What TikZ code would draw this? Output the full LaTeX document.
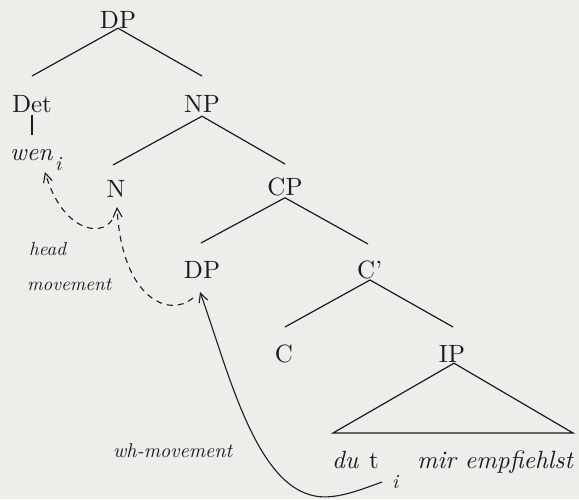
\documentclass[tikz,border=0pt]{standalone}
\usepackage{fontspec}
\setmainfont{lmroman10-regular.otf}[ItalicFont=lmroman10-italic.otf]
\usetikzlibrary{arrows.meta}
\definecolor{bg}{RGB}{237,237,234}
\definecolor{ink}{RGB}{28,28,28}
\begin{document}
\begin{tikzpicture}[x=1pt,y=-1pt,
  lab/.style={inner sep=0pt, anchor=base, text=ink, font=\fontsize{25}{30}\selectfont},
  labw/.style={lab, anchor=base west},
  ital/.style={labw, font=\fontsize{25}{30}\selectfont\itshape},
  sub/.style={labw, font=\fontsize{20}{24}\selectfont\itshape},
  note/.style={labw, font=\fontsize{19}{23}\selectfont\itshape},
  branch/.style={draw=ink, line width=1.2pt},
  move/.style={draw=ink, line width=1.1pt, -{Straight Barb[length=9pt,width=9pt]}},
  headmove/.style={move, dash pattern=on 6pt off 5pt}
]
\fill[bg] (0,0) rectangle (579,499);
\useasboundingbox (0,0) rectangle (579,499);

% labels
\node[lab] (DPtop) at (118,28) {DP};
\node[lab] (Det) at (32,112) {Det};
\node[ital] (wen) at (10,160) {wen};
\node[sub] (wi) at (55,170) {i};
\node[lab] (NP) at (202,112) {NP};
\node[lab] (N) at (116,197) {N};
\node[lab] (CP) at (285,195) {CP};
\node[lab] (DPlow) at (202,278) {DP};
\node[labw] (Cbar) at (357,278) {C'};
\node[lab] (C) at (284,362) {C};
\node[lab] (IP) at (452,362) {IP};
\node[ital] (du) at (332,468) {du};
\node[lab] (t) at (374,468) {t};
\node[sub] (ti) at (392,488) {i};
\node[ital] (rest) at (417,468) {mir empfiehlst};
\node[note] (head) at (29,255) {head};
\node[note] (mov) at (27,290) {movement};
\node[note, font=\fontsize{20}{24}\selectfont\itshape] (whmov) at (113,457) {wh-movement};

% branch ends
\coordinate (eDet) at (32,76);
\coordinate (eNP) at (202,76);
\coordinate (eWen) at (32,135);
\coordinate (eN) at (113,165);
\coordinate (eCP) at (285,164);
\coordinate (eDPlow) at (201,243);
\coordinate (eCbar) at (368,244);
\coordinate (eC) at (285,327);
\coordinate (eIP) at (453,327);
\coordinate (baseL) at (333,433);
\coordinate (baseR) at (573,433);
\coordinate (CbarTop) at (370,280);

% tree
\draw[branch] (DPtop.south) -- (eDet);
\draw[branch] (DPtop.south) -- (eNP);
\draw[branch] ([yshift=-3pt]Det.south) -- (eWen);
\draw[branch] ([yshift=-4pt]NP.south) -- (eN);
\draw[branch] ([yshift=-4pt]NP.south) -- (eCP);
\draw[branch] ([yshift=-2pt]CP.south) -- (eDPlow);
\draw[branch] ([yshift=-2pt]CP.south) -- (eCbar);
\draw[branch] (CbarTop) -- (eC);
\draw[branch] (CbarTop) -- (eIP);
\draw[branch, line join=miter] ([xshift=2pt,yshift=-1pt]IP.south) -- (baseL) -- (baseR) -- cycle;

% movement arrows
\coordinate (nStart) at (112,220);
\coordinate (wenTip) at (45,172);
\coordinate (dpStart) at (193,298);
\coordinate (nTip) at (117,207);
\coordinate (tStart) at (382,482);
\coordinate (dpTip) at (200,292);

\draw[headmove] (nStart) .. controls (100,238) and (62,230) .. (wenTip);
\draw[headmove] (dpStart) .. controls (170,318) and (122,300) .. (nTip);
\draw[move] (tStart) .. controls (360,490) and (335,500) .. (315,496)
  .. controls (255,485) and (228,370) .. (dpTip);
\end{tikzpicture}
\end{document}
